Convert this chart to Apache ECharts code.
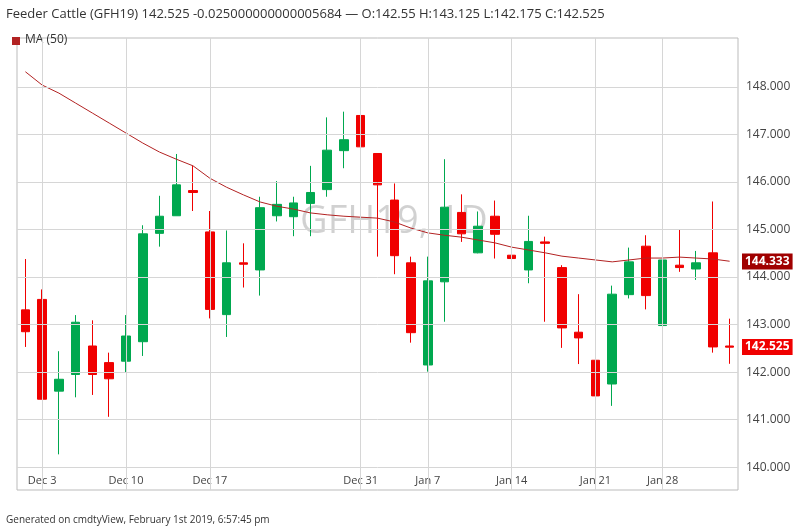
<!DOCTYPE html>
<html><head><meta charset="utf-8">
<script src="https://cdn.jsdelivr.net/npm/echarts@6/dist/echarts.min.js"></script>
<style>html,body{margin:0;padding:0;background:#fff}#c{width:800px;height:532px}</style>
</head><body><div id="c"></div>
<script>
const dates = ['Nov 30','Dec 3','Dec 4','Dec 5','Dec 6','Dec 7','Dec 10','Dec 11','Dec 12','Dec 13','Dec 14','Dec 17','Dec 18','Dec 19','Dec 20','Dec 21','Dec 24','Dec 26','Dec 27','Dec 28','Dec 31','Jan 2','Jan 3','Jan 4','Jan 7','Jan 8','Jan 9','Jan 10','Jan 11','Jan 14','Jan 15','Jan 16','Jan 17','Jan 18','Jan 21','Jan 22','Jan 23','Jan 24','Jan 28','Jan 29','Jan 30','Jan 31','Feb 1'];
const opens  = [143.31,143.53,141.60,141.95,142.55,142.20,142.23,142.64,144.92,145.29,145.82,144.95,143.21,144.30,144.15,145.29,145.27,145.55,145.84,146.66,147.40,146.60,145.62,144.30,142.15,143.90,145.36,144.51,145.28,144.46,144.15,144.74,144.20,142.84,142.25,141.75,143.63,144.65,142.98,144.25,144.17,144.51,142.55];
const closes = [142.85,141.43,141.85,143.05,141.95,141.86,142.76,144.91,145.28,145.94,145.78,143.32,144.30,144.27,145.46,145.53,145.56,145.78,146.67,146.89,146.74,145.94,144.45,142.83,143.92,145.47,144.91,145.07,144.90,144.39,144.75,144.71,142.93,142.72,141.50,143.64,144.32,143.61,144.36,144.20,144.30,142.53,142.525];
const lows   = [142.53,141.43,140.27,141.47,141.52,141.06,141.99,142.34,144.64,145.29,145.39,143.13,142.74,143.78,143.61,145.17,144.86,144.86,145.69,146.29,146.51,144.43,144.06,142.62,142.01,143.06,144.74,144.50,144.39,143.78,143.87,143.06,142.51,142.17,141.21,141.29,143.55,143.32,142.98,144.11,143.94,142.41,142.175];
const highs  = [144.38,143.74,142.44,143.20,143.09,142.41,143.20,145.09,145.71,146.59,146.34,145.39,144.98,144.71,145.69,146.02,145.69,146.34,147.36,147.48,147.59,146.60,145.97,144.43,144.43,146.48,145.74,145.38,145.61,145.06,145.29,144.85,144.25,143.64,142.29,143.82,144.62,144.88,144.71,145.00,144.55,145.59,143.125];
const ma50   = [148.32,148.04,147.87,147.66,147.45,147.24,147.03,146.82,146.63,146.48,146.34,146.08,145.89,145.73,145.58,145.49,145.43,145.35,145.31,145.28,145.26,145.24,145.16,145.03,144.93,144.88,144.84,144.78,144.72,144.63,144.57,144.51,144.44,144.40,144.36,144.32,144.36,144.40,144.40,144.42,144.40,144.38,144.333];
const yTicks = [140,141,142,143,144,145,146,147,148];
const xTickLabels = ['Dec 3','Dec 10','Dec 17','Dec 31','Jan 7','Jan 14','Jan 21','Jan 28'];

const candle = dates.map((d,i)=>[opens[i],closes[i],lows[i],highs[i]]);
const lastClose = closes[closes.length-1];
const lastMA = ma50[ma50.length-1];
const chart = echarts.init(document.getElementById('c'));
const markData = yTicks.map(v=>({yAxis:v,label:{show:true,position:'end',formatter:v.toFixed(3),color:'#444',fontSize:12,distance:8}}))
  .concat(xTickLabels.map(l=>({xAxis:l,label:{show:false}})));
chart.setOption({
  animation:false,
  textStyle:{fontFamily:'Open Sans, sans-serif'},
  graphic:[
    {type:'text',left:6,top:8,style:{text:'Feeder Cattle (GFH19) 142.525 -0.025000000000005684 — O:142.55 H:143.125 L:142.175 C:142.525',fontSize:13,fill:'#333',fontFamily:'Open Sans, sans-serif'}},
    {type:'text',left:6,top:515,style:{text:'Generated on cmdtyView, February 1st 2019, 6:57:45 pm',fontSize:10,fill:'#333',fontFamily:'Open Sans, sans-serif'}},
    {type:'rect',left:12,top:37,shape:{width:8,height:8},style:{fill:'#b22222'}},
    {type:'text',left:25,top:34,style:{text:'MA (50)',fontSize:12,fill:'#333',fontFamily:'Open Sans, sans-serif'}},
    {type:'text',left:300,top:203,z:0,style:{text:'GFH19, 1D',fontSize:38,fill:'rgba(0,0,0,0.18)',fontFamily:'Open Sans, sans-serif'}}
  ],
  grid:{left:17,right:62,top:38,bottom:42,show:true,borderColor:'#bbb',borderWidth:1},
  xAxis:{type:'category',data:dates,boundaryGap:true,
    axisLine:{show:false},axisTick:{show:false},splitLine:{show:false},
    axisLabel:{inside:true,margin:4,color:'#444',fontSize:11,
      interval:(i,v)=>xTickLabels.includes(v)}},
  yAxis:{type:'value',min:139.52,max:149.03,position:'right',
    axisLabel:{show:false},splitLine:{show:false},axisLine:{show:false},axisTick:{show:false}},
  series:[
    {type:'candlestick',data:candle,barWidth:9,
      itemStyle:{color:'#00a84f',color0:'#f00000',borderColor:'#00a84f',borderColor0:'#f00000',borderWidth:1},
      markLine:{silent:true,symbol:'none',lineStyle:{color:'#d6d6d6',type:'solid',width:1},data:markData}},
    {type:'line',data:ma50,showSymbol:false,smooth:false,clip:false,
      lineStyle:{color:'#b22222',width:1},
      markLine:{silent:true,symbol:'none',lineStyle:{color:'rgba(0,0,0,0)',width:1},
        data:[
          {yAxis:lastMA,label:{show:true,position:'end',distance:4,formatter:lastMA.toFixed(3),color:'#fff',fontWeight:'bold',fontSize:12,backgroundColor:'#a00000',padding:[2,3]}},
          {yAxis:lastClose,label:{show:true,position:'end',distance:4,formatter:lastClose.toFixed(3),color:'#fff',fontWeight:'bold',fontSize:12,backgroundColor:'#f00000',padding:[2,3]}}
        ]}}
  ]
});
</script></body></html>
